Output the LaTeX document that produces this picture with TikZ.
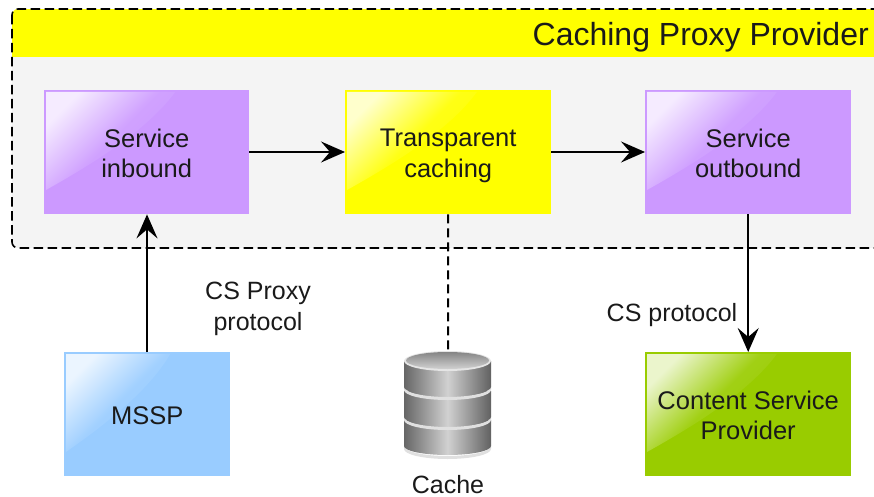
\documentclass[tikz,border=0pt]{standalone}
\usepackage{fontspec}
\setmainfont{Liberation Sans}
\usetikzlibrary{arrows.meta}
\definecolor{panelgray}{HTML}{F4F4F4}
\definecolor{hdryellow}{HTML}{FFFF00}
\definecolor{purplebox}{HTML}{CC99FF}
\definecolor{bluebox}{HTML}{99CCFF}
\definecolor{greenbox}{HTML}{99CC00}
\definecolor{inkdark}{HTML}{1A1A1A}
\newcommand{\lr}{\rule[-5pt]{0pt}{30pt}}
\tikzset{
  x=1pt,y=-1pt,
  boxbase/.style={minimum width=#1,minimum height=124pt,inner sep=0pt,align=center,
    font=\fontsize{25.5}{30}\selectfont,text=inkdark,anchor=north west},
  boxbase/.default=206pt,
  conn/.style={line width=2pt,black,-{Stealth[length=24pt,width=21pt,inset=9pt]}},
  dashconn/.style={line width=2pt,black,dash pattern=on 9pt off 5pt},
  lbl/.style={font=\fontsize{25}{30}\selectfont,text=inkdark,align=center,inner sep=0pt},
}
\newcommand{\gloss}[4]{% x y width colour
  \shade[left color=white!80!#4,right color=#4,middle color=#4!92!white,shading angle=45]
    (#1+2,#2+2) -- (#1+#3*0.64,#2+2)
    .. controls (#1+#3*0.5,#2+42) and (#1+#3*0.2,#2+78) .. (#1+2,#2+100) -- cycle;
}
\newcommand{\cachedisc}[2]{% top y, body height
  \fill[black!12] (404,#1+#2) arc[start angle=180,end angle=0,x radius=43.5,y radius=10] -- (491,#1+#2-3)
     arc[start angle=0,end angle=180,x radius=43.5,y radius=10] -- cycle;
  \shade[left color=black!60,right color=black!62,middle color=black!18]
    (404,#1) -- (404,#1+#2-3) arc[start angle=180,end angle=0,x radius=43.5,y radius=9]
    -- (491,#1) -- cycle;
}
\begin{document}
\begin{tikzpicture}
\useasboundingbox (0,0) rectangle (874,497);
\clip (0,0) rectangle (874,497);
% container
\begin{scope}
\clip[rounded corners=6pt] (12,9) rectangle (900,248);
\fill[panelgray] (12,9) rectangle (900,248);
\fill[hdryellow] (12,9) rectangle (900,57);
\end{scope}
\draw[line width=1.6pt,black,dash pattern=on 9.5pt off 4.5pt,rounded corners=6pt] (12,9) rectangle (900,248);
\node[anchor=east,inner sep=0pt,font=\fontsize{32}{36}\selectfont,text=inkdark] (title) at (869,37) {Caching Proxy Provider};
% boxes
\fill[purplebox] (44,90) rectangle (249,214);
\gloss{44}{90}{205}{purplebox}
\node[boxbase=205pt] (inbound) at (44,90) {\lr Service\\\lr inbound};
\fill[hdryellow] (345,90) rectangle (551,214);
\gloss{345}{90}{206}{hdryellow}
\node[boxbase=206pt] (trans) at (345,90) {\lr Transparent\\\lr caching};
\fill[purplebox] (645,90) rectangle (851,214);
\gloss{645}{90}{206}{purplebox}
\node[boxbase=206pt] (outbound) at (645,90) {\lr Service\\\lr outbound};
\fill[bluebox] (64,352) rectangle (230,476);
\gloss{64}{352}{166}{bluebox}
\node[boxbase=166pt] (mssp) at (64,352) {\lr MSSP};
\fill[greenbox] (645,352) rectangle (851,476);
\gloss{645}{352}{206}{greenbox}
\node[boxbase=206pt] (csp) at (645,352) {\lr Content Service\\\lr Provider};
% cache cylinder
\cachedisc{420}{29}
\cachedisc{391}{29}
\cachedisc{361}{29}
\fill[black!10] (447.5,361) ellipse[x radius=43.5,y radius=10];
\shade[top color=black!48,bottom color=black!18] (447.5,360.5) ellipse[x radius=41.5,y radius=8.5];
\coordinate (cachetop) at (448,350);
\node[lbl,anchor=base] (cachelabel) at (448,493) {Cache};
% connectors
\draw[conn] (inbound.east|-0,152) -- (trans.west|-0,152);
\draw[conn] (trans.east|-0,152) -- (outbound.west|-0,152);
\draw[conn] (mssp.north-|147,0) -- (inbound.south-|147,0);
\draw[conn] (outbound.south) -- (csp.north);
\draw[dashconn] (trans.south) -- (cachetop);
% labels
\node[lbl] (proxylabel) at (258,305) {\lr CS Proxy\\\lr protocol};
\node[lbl] (cslabel) at (672,312) {\lr CS protocol};
\end{tikzpicture}
\end{document}
